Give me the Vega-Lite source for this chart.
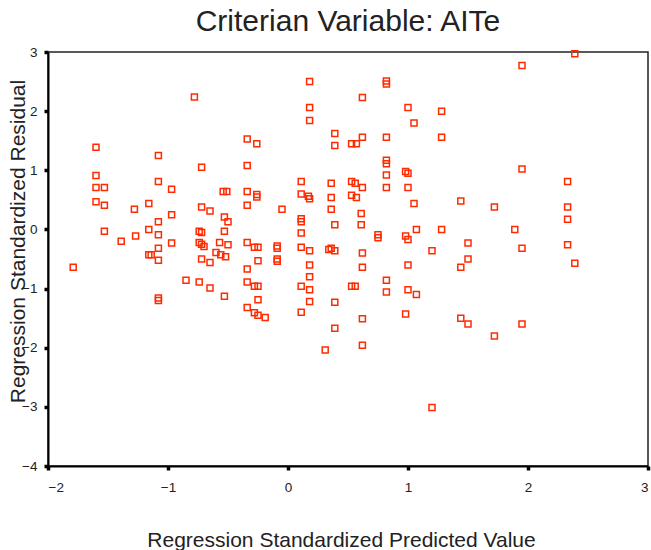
{
  "$schema": "https://vega.github.io/schema/vega-lite/v6.json",
  "autosize": "none",
  "padding": {"left": 48, "top": 52, "right": 3, "bottom": 84},
  "width": 600,
  "height": 414,
  "background": "white",
  "title": {"text": "Criterian Variable: AITe", "font": "Liberation Sans", "fontSize": 30, "fontWeight": "normal", "color": "#222", "anchor": "middle", "offset": 8},
  "config": {
    "view": {"stroke": "#222", "strokeWidth": 1.5},
    "axis": {"labelFont": "Liberation Sans", "titleFont": "Liberation Sans", "labelFontSize": 13.5, "titleFontSize": 21, "titleFontWeight": "normal", "labelColor": "#222", "titleColor": "#222", "domainColor": "#000", "domainWidth": 2, "tickColor": "#000", "tickWidth": 3.5, "tickSize": 4, "grid": false}
  },
  "data": {"values": [
    {"x": -1.60, "y": 1.39}, {"x": -0.78, "y": 2.24}, {"x": 0.18, "y": 2.50}, {"x": 0.18, "y": 2.06}, {"x": 0.18, "y": 1.84},
    {"x": -1.08, "y": 1.25}, {"x": -0.34, "y": 1.53}, {"x": -0.26, "y": 1.45}, {"x": -0.72, "y": 1.05}, {"x": -0.34, "y": 1.08},
    {"x": -1.60, "y": 0.91}, {"x": -1.60, "y": 0.71}, {"x": -1.53, "y": 0.71}, {"x": -1.08, "y": 0.81}, {"x": -0.97, "y": 0.68},
    {"x": -0.54, "y": 0.64}, {"x": -0.51, "y": 0.64}, {"x": -0.34, "y": 0.64}, {"x": -0.26, "y": 0.59}, {"x": -0.26, "y": 0.55},
    {"x": 0.11, "y": 0.81}, {"x": 0.11, "y": 0.60}, {"x": 0.17, "y": 0.56}, {"x": 0.18, "y": 0.52}, {"x": -1.60, "y": 0.47},
    {"x": -1.53, "y": 0.41}, {"x": -1.28, "y": 0.34}, {"x": -1.16, "y": 0.44}, {"x": -0.97, "y": 0.25}, {"x": -0.72, "y": 0.38},
    {"x": -0.65, "y": 0.31}, {"x": -0.34, "y": 0.41}, {"x": -0.05, "y": 0.34}, {"x": 0.11, "y": 0.18}, {"x": 0.11, "y": 0.13},
    {"x": -1.08, "y": 0.13}, {"x": -0.53, "y": 0.21}, {"x": -0.50, "y": 0.13}, {"x": -1.53, "y": -0.03}, {"x": -1.39, "y": -0.20},
    {"x": -1.27, "y": -0.11}, {"x": -1.16, "y": 0.00}, {"x": -1.08, "y": -0.09}, {"x": -0.74, "y": -0.03}, {"x": -0.72, "y": -0.05},
    {"x": -0.74, "y": -0.22}, {"x": -0.72, "y": -0.25}, {"x": -0.70, "y": -0.29}, {"x": -0.57, "y": -0.22}, {"x": -0.50, "y": -0.26},
    {"x": -0.53, "y": -0.03}, {"x": -0.34, "y": -0.22}, {"x": -0.28, "y": -0.30}, {"x": -0.25, "y": -0.30}, {"x": -0.09, "y": -0.28},
    {"x": -0.09, "y": -0.32}, {"x": 0.11, "y": -0.30}, {"x": 0.18, "y": -0.36}, {"x": 0.34, "y": -0.34}, {"x": -0.97, "y": -0.23},
    {"x": -1.08, "y": -0.32}, {"x": -1.16, "y": -0.43}, {"x": -1.14, "y": -0.43}, {"x": -1.08, "y": -0.52}, {"x": -0.60, "y": -0.39},
    {"x": -0.56, "y": -0.43}, {"x": -0.52, "y": -0.46}, {"x": -0.72, "y": -0.50}, {"x": -0.65, "y": -0.56}, {"x": -0.34, "y": -0.67},
    {"x": -0.25, "y": -0.53}, {"x": -0.09, "y": -0.50}, {"x": -0.09, "y": -0.54}, {"x": 0.11, "y": -0.06}, {"x": 0.18, "y": -0.60},
    {"x": 0.18, "y": -0.80}, {"x": -1.79, "y": -0.64}, {"x": -0.85, "y": -0.86}, {"x": -0.74, "y": -0.89}, {"x": -0.65, "y": -0.99},
    {"x": -0.53, "y": -1.13}, {"x": -1.08, "y": -1.16}, {"x": -1.08, "y": -1.20}, {"x": -0.34, "y": -0.89}, {"x": -0.28, "y": -0.96},
    {"x": -0.25, "y": -0.96}, {"x": -0.25, "y": -1.19}, {"x": -0.34, "y": -1.32}, {"x": -0.28, "y": -1.41}, {"x": -0.25, "y": -1.45},
    {"x": -0.19, "y": -1.49}, {"x": 0.11, "y": -0.96}, {"x": 0.18, "y": -1.02}, {"x": 0.18, "y": -1.22}, {"x": 0.11, "y": -1.40},
    {"x": 0.31, "y": -2.04},
    {"x": 2.39, "y": 2.97}, {"x": 1.95, "y": 2.77}, {"x": 0.82, "y": 2.51}, {"x": 0.82, "y": 2.46}, {"x": 0.62, "y": 2.23},
    {"x": 1.00, "y": 2.06}, {"x": 1.28, "y": 2.00}, {"x": 1.05, "y": 1.80}, {"x": 0.39, "y": 1.62}, {"x": 0.39, "y": 1.42},
    {"x": 0.53, "y": 1.45}, {"x": 0.57, "y": 1.45}, {"x": 0.62, "y": 1.56}, {"x": 0.82, "y": 1.56}, {"x": 1.28, "y": 1.56},
    {"x": 0.82, "y": 1.17}, {"x": 0.82, "y": 1.11}, {"x": 0.82, "y": 0.92}, {"x": 0.98, "y": 0.98}, {"x": 1.00, "y": 0.95},
    {"x": 1.95, "y": 1.02}, {"x": 2.33, "y": 0.81}, {"x": 0.36, "y": 0.78}, {"x": 0.53, "y": 0.81}, {"x": 0.56, "y": 0.78},
    {"x": 0.62, "y": 0.71}, {"x": 0.82, "y": 0.71}, {"x": 1.00, "y": 0.71}, {"x": 0.36, "y": 0.54}, {"x": 0.53, "y": 0.58},
    {"x": 0.57, "y": 0.54}, {"x": 1.05, "y": 0.44}, {"x": 1.44, "y": 0.48}, {"x": 1.72, "y": 0.38}, {"x": 2.33, "y": 0.38},
    {"x": 2.33, "y": 0.17}, {"x": 0.36, "y": 0.34}, {"x": 0.61, "y": 0.27}, {"x": 0.39, "y": 0.08}, {"x": 0.61, "y": 0.08},
    {"x": 0.75, "y": -0.09}, {"x": 0.75, "y": -0.14}, {"x": 0.98, "y": -0.11}, {"x": 1.00, "y": -0.17}, {"x": 1.07, "y": 0.00},
    {"x": 1.28, "y": 0.00}, {"x": 1.89, "y": 0.00}, {"x": 1.50, "y": -0.23}, {"x": 1.95, "y": -0.32}, {"x": 2.33, "y": -0.26},
    {"x": 0.36, "y": -0.32}, {"x": 0.39, "y": -0.36}, {"x": 0.62, "y": -0.40}, {"x": 1.20, "y": -0.36}, {"x": 0.62, "y": -0.64},
    {"x": 1.00, "y": -0.60}, {"x": 1.50, "y": -0.50}, {"x": 1.44, "y": -0.64}, {"x": 2.39, "y": -0.57}, {"x": 0.82, "y": -0.86},
    {"x": 0.53, "y": -0.96}, {"x": 0.56, "y": -0.96}, {"x": 0.82, "y": -1.06}, {"x": 1.00, "y": -1.02}, {"x": 1.07, "y": -1.10},
    {"x": 0.39, "y": -1.23}, {"x": 0.98, "y": -1.43}, {"x": 0.62, "y": -1.51}, {"x": 1.44, "y": -1.50}, {"x": 1.50, "y": -1.60},
    {"x": 1.95, "y": -1.60}, {"x": 1.72, "y": -1.80}, {"x": 0.39, "y": -1.67}, {"x": 0.62, "y": -1.96}, {"x": 1.20, "y": -3.01}
  ]},
  "mark": {"type": "point", "shape": "square", "filled": false, "size": 36, "strokeWidth": 1.5, "color": "#ff2a00", "opacity": 1},
  "encoding": {
    "x": {"field": "x", "type": "quantitative", "scale": {"domain": [-2, 3], "nice": false, "zero": false}, "axis": {"title": "Regression Standardized Predicted Value", "values": [-2, -1, 0, 1, 2, 3], "labelPadding": 10, "titleX": 293, "titleY": 80.5, "titleAlign": "center", "titleBaseline": "alphabetic"}},
    "y": {"field": "y", "type": "quantitative", "scale": {"domain": [-4, 3], "nice": false, "zero": false}, "axis": {"title": "Regression Standardized Residual", "values": [-4, -3, -2, -1, 0, 1, 2, 3], "labelPadding": 7, "titleX": -30, "titleY": 189, "titleAngle": -90, "titleAlign": "center", "titleBaseline": "middle"}}
  }
}
